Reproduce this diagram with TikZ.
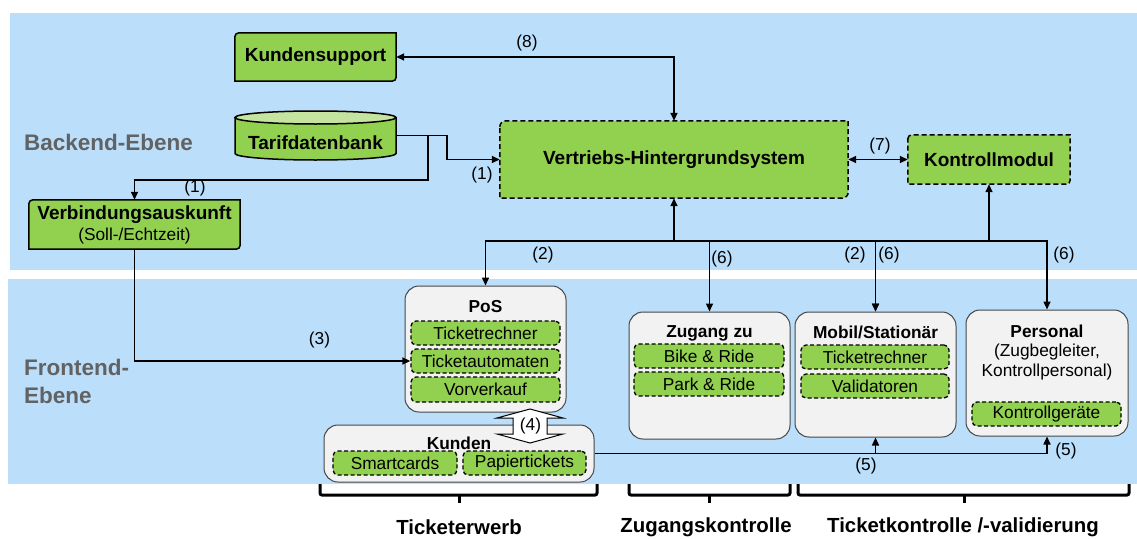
\documentclass[tikz,border=0pt]{standalone}
\usepackage{fontspec}
\setmainfont{Liberation Sans}
\usetikzlibrary{arrows.meta,calc}
\definecolor{band}{RGB}{187,222,251}
\definecolor{gfill}{RGB}{146,208,80}
\definecolor{gtop}{RGB}{196,228,160}
\definecolor{cfill}{RGB}{242,242,242}
\definecolor{cdraw}{RGB}{70,70,70}
\definecolor{lvl}{RGB}{98,98,98}
\pgfdeclarelayer{bands}\pgfdeclarelayer{shapes}\pgfsetlayers{bands,shapes,main}
\newcommand\diagpath[3][4]{%
 \begin{pgfonlayer}{shapes}
 \path[#3] ($(#2.north west)+(0,-#1)$) arc[start angle=180,end angle=90,radius=#1] -- (#2.north east) -- ($(#2.south east)+(0,#1)$) arc[start angle=0,end angle=-90,radius=#1] -- (#2.south west) -- cycle;
 \end{pgfonlayer}}
\tikzset{
 lbl/.style={font=\fontsize{17.3}{20}\selectfont, inner sep=0pt},
 gnode/.style={inner sep=0pt, font=\fontsize{19}{22}\selectfont\bfseries, align=center},
 gsolid/.style={draw=black, fill=gfill, line width=1.5pt},
 gdash/.style={draw=black, fill=gfill, line width=1.5pt, dash pattern=on 5pt off 3pt},
 ibox/.style={draw=black, fill=gfill, line width=1.3pt, dash pattern=on 4pt off 2.5pt, rounded corners=5pt, inner sep=0pt, font=\fontsize{17.3}{20}\selectfont},
 cont/.style={draw=cdraw, fill=cfill, line width=1pt, rounded corners=14pt, inner sep=0pt},
 ttl/.style={font=\fontsize{17.3}{20}\selectfont\bfseries, inner sep=0pt},
 conn/.style={line width=1.5pt, -{Triangle[length=8pt,width=7pt]}},
 conn2/.style={line width=1.5pt, {Triangle[length=8pt,width=7pt]}-{Triangle[length=8pt,width=7pt]}},
 plain/.style={line width=1.5pt},
 brace/.style={line width=3pt, rounded corners=2pt},
 lev/.style={font=\fontsize{22.5}{28}\selectfont\bfseries, text=lvl, inner sep=0pt, align=left},
 cat/.style={font=\fontsize{20.4}{24}\selectfont\bfseries, inner sep=0pt},
}
\begin{document}
\begin{tikzpicture}[x=1pt,y=1pt]
\useasboundingbox (0,0) rectangle (1137,-538);
\begin{pgfonlayer}{bands}
\fill[band] (10,-13) rectangle (1137,-270);
\fill[band] (8,-279) rectangle (1137,-484);
\end{pgfonlayer}

% level labels
\node[lev, anchor=west] (be) at (24,-142) {Backend-Ebene};
\node[lev, anchor=west] (fe) at (24,-381) {Frontend-\\Ebene};

% backend nodes
\node[gnode, minimum width=161pt, minimum height=48pt] (ks) at (315.5,-57) {Kundensupport};
\diagpath{ks}{gsolid}
\node[gnode, minimum width=211pt, minimum height=49pt] (verb) at (134.5,-224.5) {Verbindungsauskunft\\[-1pt]{\fontsize{17.3}{20}\selectfont\mdseries (Soll-/Echtzeit)}};
\diagpath{verb}{gsolid}
\node[gnode, minimum width=348pt, minimum height=77pt] (vhs) at (674,-159.5) {Vertriebs-Hintergrundsystem};
\diagpath[6]{vhs}{gdash}
\node[gnode, minimum width=162pt, minimum height=49pt] (km) at (989,-159.5) {Kontrollmodul};
\diagpath{km}{gdash}

% cylinder
\fill[gfill] (235,-117.5) -- (235,-153.5) arc[start angle=180,end angle=360,x radius=80.5,y radius=6.5] -- (396,-117.5) -- cycle;
\draw[line width=1.5pt] (235,-117.5) -- (235,-153.5) arc[start angle=180,end angle=360,x radius=80.5,y radius=6.5] -- (396,-117.5);
\draw[line width=1.5pt, fill=gtop] (315.5,-117.5) ellipse[x radius=80.5, y radius=6.5];
\node[gnode, minimum width=161pt, minimum height=49pt] (tarif) at (315.5,-135.5) {};
\node[gnode] at (315.5,-142.5) {Tarifdatenbank};

% frontend containers
\node[cont, minimum width=161pt, minimum height=126pt] (pos) at (485.5,-349) {};
\node[ttl] at (485.5,-307) {PoS};
\node[ibox, minimum width=149pt, minimum height=24pt] (tr1) at (485.5,-333) {Ticketrechner};
\node[ibox, minimum width=149pt, minimum height=24pt] (ta) at (485.5,-361) {Ticketautomaten};
\node[ibox, minimum width=149pt, minimum height=25pt] (vv) at (485.5,-389.5) {Vorverkauf};

\node[cont, minimum width=270pt, minimum height=57pt] (kunden) at (459,-453.5) {};
\node[ttl] at (459,-443) {Kunden};
\node[ibox, minimum width=124pt, minimum height=24pt] (sc) at (395,-463) {Smartcards};
\node[ibox, minimum width=123pt, minimum height=24pt] (pt) at (524.5,-463) {Papiertickets};

\node[cont, minimum width=161pt, minimum height=127pt] (zug) at (709.5,-375.5) {};
\node[ttl] at (709.5,-333) {Zugang zu};
\node[ibox, minimum width=150pt, minimum height=24pt] (br) at (709,-356) {Bike \& Ride};
\node[ibox, minimum width=150pt, minimum height=24pt] (pr) at (709,-384) {Park \& Ride};

\node[cont, minimum width=161pt, minimum height=125pt] (mob) at (875.5,-374.5) {};
\node[ttl] at (875.5,-332) {Mobil/Stationär};
\node[ibox, minimum width=148pt, minimum height=24pt] (tr2) at (875,-357) {Ticketrechner};
\node[ibox, minimum width=148pt, minimum height=24pt] (val) at (875,-386) {Validatoren};

\node[cont, minimum width=162pt, minimum height=126pt] (pers) at (1047,-373) {};
\node[ttl] at (1047,-331) {Personal};
\node[lbl] at (1047,-352) {(Zugbegleiter,};
\node[lbl] at (1047,-372) {Kontrollpersonal)};
\node[ibox, minimum width=149pt, minimum height=24pt] (kg) at (1046.5,-414) {Kontrollgeräte};

% block arrow (4)
\draw[fill=white, line width=1pt] (530,-409) -- (563,-418) -- (547,-418) -- (547,-434) -- (563,-434) -- (530,-443) -- (497,-434) -- (513,-434) -- (513,-418) -- (497,-418) -- cycle;
\node[lbl] (l4) at (530.5,-426) {(4)};

% connectors backend
\draw[conn2] (ks.east) -| (vhs.north);
\coordinate (j1) at (447,-135.5);
\coordinate (j2) at (428,-135.5);
\coordinate (j3) at (134.5,-180);
\draw[conn] (tarif.east) -- (j1) |- (vhs.west);
\draw[conn] (j2) |- (j3) -- (verb.north);
\draw[conn2] (vhs.east) -- (km.west);
\draw[conn] (verb.south) |- (ta.west);

% bus lines
\coordinate (b1) at (674,-241);
\coordinate (b2) at (989,-241);
\draw[conn] (b1) -- (vhs.south);
\draw[conn] (b1) -| (pos.north);
\draw[conn] (b1) -| (zug.north);
\draw[conn] (b1) -| (mob.north);
\draw[conn] (b2) -- (km.south);
\draw[conn] (b2) -| (mob.north);
\draw[conn] (b2) -| (pers.north);

% (5)
\draw[conn] (kunden.east) -| (pers.south);
\draw[conn] (kunden.east -| mob.south) -- (mob.south);

% labels
\node[lbl] at (527,-43) {(8)};
\node[lbl] at (195,-188) {(1)};
\node[lbl] at (482,-175) {(1)};
\node[lbl] at (880,-146) {(7)};
\node[lbl] at (543,-255) {(2)};
\node[lbl] at (722,-259) {(6)};
\node[lbl] at (855,-255) {(2)};
\node[lbl] at (889,-255) {(6)};
\node[lbl] at (1064,-255) {(6)};
\node[lbl] at (319.5,-340) {(3)};
\node[lbl] at (866,-466) {(5)};
\node[lbl] at (1066,-451) {(5)};

% braces
\draw[brace] (320,-484) -- (320,-495) -- (597,-495) -- (597,-484);
\draw[brace] (459,-495) -- (459,-503);
\draw[brace] (629,-484) -- (629,-495) -- (790,-495) -- (790,-484);
\draw[brace] (709.5,-495) -- (709.5,-503);
\draw[brace] (798,-484) -- (798,-495) -- (1129,-495) -- (1129,-484);
\draw[brace] (964,-495) -- (964,-503);
\node[cat] at (459,-527) {Ticketerwerb};
\node[cat] at (706,-527) {Zugangskontrolle};
\node[cat] at (963,-527) {Ticketkontrolle /-validierung};
\end{tikzpicture}
\end{document}
